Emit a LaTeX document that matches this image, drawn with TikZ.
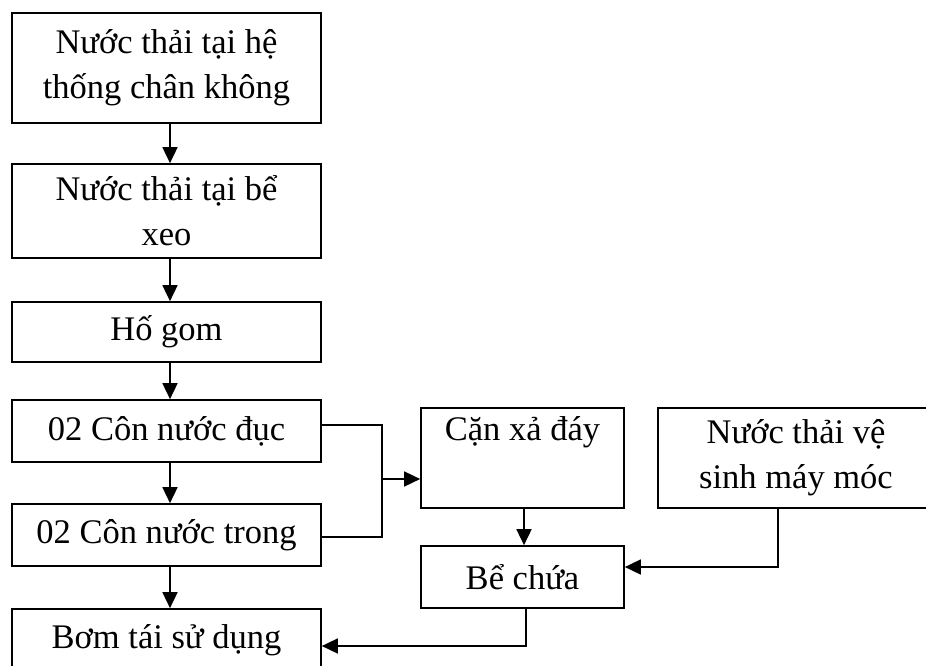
\documentclass[tikz,border=0pt]{standalone}
\usepackage{fontspec}
\setmainfont{Liberation Serif}
\usetikzlibrary{arrows.meta}
\begin{document}
\begin{tikzpicture}[x=1pt,y=-1pt,
  box/.style={draw,line width=1.7pt,rectangle,inner sep=0pt,align=center,
    font=\fontsize{34.5}{45}\selectfont},
  conn/.style={line width=1.7pt},
  arr/.style={line width=1.7pt,-{Triangle[length=16pt,width=15pt]}}]
\useasboundingbox (0,0) rectangle (926,666);
\clip (0,0) rectangle (926,666);
\node[box,minimum width=309pt,minimum height=110pt] (b1) at (166.5,68) {Nước thải tại hệ\\thống chân không};
\node[box,minimum width=309pt,minimum height=94pt] (b2) at (166.5,211) {Nước thải tại bể\\xeo};
\node[box,minimum width=309pt,minimum height=60pt] (b3) at (166.5,332) {Hố gom};
\node[box,minimum width=309pt,minimum height=62pt] (b4) at (166.5,431) {02 Côn nước đục};
\node[box,minimum width=309pt,minimum height=62pt] (b5) at (166.5,535) {02 Côn nước trong};
\node[box,minimum width=309pt,minimum height=62pt] (b6) at (166.5,640) {Bơm tái sử dụng};
\node[box,minimum width=203pt,minimum height=100pt] (c1) at (522.5,458) {Cặn xả đáy\\\strut};
\node[box,minimum width=276pt,minimum height=100pt] (c2) at (796,458) {Nước thải vệ\\sinh máy móc};
\node[box,minimum width=203pt,minimum height=62pt] (c3) at (522.5,577) {Bể chứa};
% vertical arrows on the left column
\draw[arr] (170,0 |- b1.south) -- (170,0 |- b2.north);
\draw[arr] (170,0 |- b2.south) -- (170,0 |- b3.north);
\draw[arr] (170,0 |- b3.south) -- (170,0 |- b4.north);
\draw[arr] (170,0 |- b4.south) -- (170,0 |- b5.north);
\draw[arr] (170,0 |- b5.south) -- (170,0 |- b6.north);
% bracket to Can xa day
\coordinate (j1) at (382,425);
\coordinate (j2) at (382,537);
\coordinate (jm) at (382,479);
\draw[conn] (b4.east |- j1) -- (j1) -- (j2) -- (b5.east |- j2);
\draw[arr] (jm) -- (c1.west |- jm);
% Can xa day -> Be chua
\draw[arr] (524,0 |- c1.south) -- (524,0 |- c3.north);
% Ve sinh -> Be chua
\coordinate (k1) at (778,567);
\draw[arr] (778,0 |- c2.south) -- (k1) -- (c3.east |- k1);
% Be chua -> Bom
\coordinate (m1) at (526,646);
\draw[arr] (526,0 |- c3.south) -- (m1) -- (b6.east |- m1);
\end{tikzpicture}
\end{document}
